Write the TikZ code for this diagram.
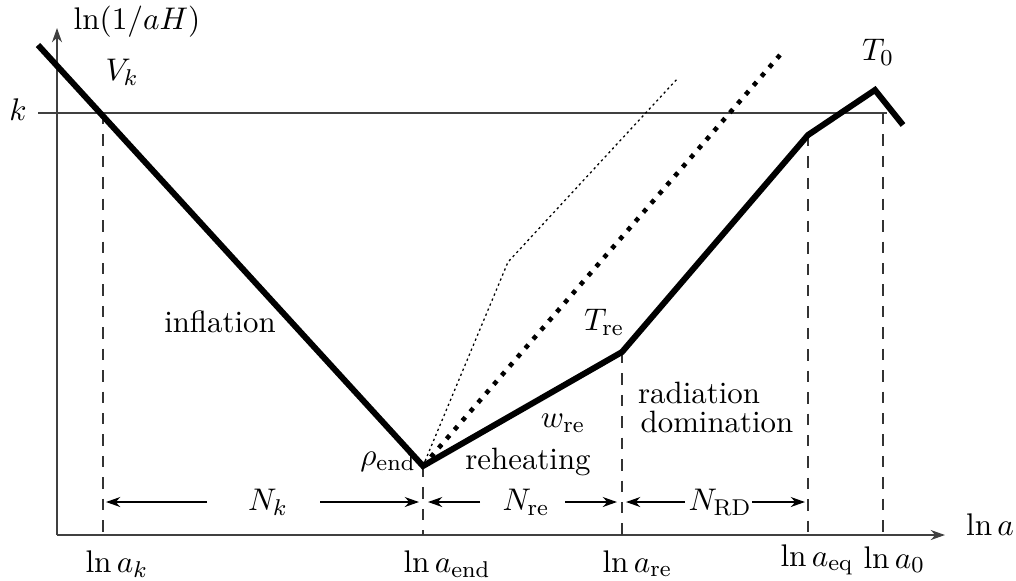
\documentclass[tikz,border=0pt]{standalone}
\usetikzlibrary{arrows.meta}
\begin{document}
\begin{tikzpicture}[x=0.35pt,y=-0.35pt,
  every node/.style={font=\fontsize{10.8}{13}\selectfont},
  axis/.style={line width=0.7pt, draw=black!75, -{Stealth[length=5pt,width=3.5pt]}},
  kline/.style={line width=0.7pt, draw=black!75},
  curve/.style={line width=2.1pt, line join=miter},
  thindot/.style={line width=0.45pt, dash pattern=on 0.8pt off 1.1pt},
  thickdot/.style={line width=1.6pt, dash pattern=on 1.6pt off 2.6pt},
  guide/.style={line width=0.6pt, draw=black!80, dash pattern=on 4pt off 3.5pt},
  meas/.style={line width=0.6pt, -{Stealth[length=5pt,width=3.5pt]}},
  lbl/.style={inner sep=0pt},
  tick/.style={inner sep=0pt, anchor=base west},
]
\useasboundingbox (0,0) rectangle (1016,580);
% axes
\coordinate (O) at (57,535);
\coordinate (Ytop) at (57,28);
\coordinate (Xend) at (945,535);
\draw[axis] (O) -- (Ytop);
\draw[axis] (O) -- (Xend);
% k line
\coordinate (K0) at (38,113);
\coordinate (K1) at (887,113);
\draw[kline] (K0) -- (K1);
% main curve points
\coordinate (P0) at (38,45);
\coordinate (Pend) at (423,466);
\coordinate (Pre) at (622,352);
\coordinate (Peq) at (808,135);
\coordinate (Ppk) at (875,90);
\coordinate (Pfin) at (903,125);
% verticals
\coordinate (Vk) at (103,113);   \coordinate (Bk) at (103,535);
\coordinate (Bend) at (423,535);
\coordinate (Bre) at (622,535);
\coordinate (Beq) at (808,535);
\coordinate (V0) at (883,113);   \coordinate (B0) at (883,535);
\draw[guide] (Vk) -- (Bk);
\draw[guide] (Pend) -- (Bend);
\draw[guide] (Pre) -- (Bre);
\draw[guide] (Peq) -- (Beq);
\draw[guide] (V0) -- (B0);
% other reheating curves
\coordinate (D1) at (508,262);
\coordinate (D2) at (678,78);
\coordinate (D3) at (780,55);
\draw[thindot] (Pend) -- (D1) -- (D2);
\draw[thickdot] (Pend) -- (D3);
% main curve
\draw[curve] (P0) -- (Pend) -- (Pre) -- (Peq) -- (Ppk) -- (Pfin);
% labels
\node[lbl] (ylab) at (137,22) {$\ln(1/aH)$};
\node[lbl] (Vklab) at (122,72) {$V_k$};
\node[lbl] (klab) at (18,110) {$k$};
\node[lbl] (T0lab) at (878,52) {$T_0$};
\node[lbl] (infl) at (220,322) {inflation};
\node[lbl] (Trelab) at (604,322) {$T_{\mathrm{re}}$};
\node[lbl] (wre) at (563,423) {$w_{\mathrm{re}}$};
\node[lbl] (reh) at (528,462) {reheating};
\node[lbl] (rho) at (388,462) {$\rho_{\mathrm{end}}$};
\node[lbl] (rad) at (699,393) {radiation};
\node[lbl] (dom) at (717,422) {domination};
\node[lbl] (xlab) at (990,525) {$\ln a$};
% tick labels
\node[tick] (tk) at (85,572) {$\ln a_k$};
\node[tick] (tend) at (403,572) {$\ln a_{\mathrm{end}}$};
\node[tick] (tre) at (602,572) {$\ln a_{\mathrm{re}}$};
\node[tick] (teq) at (780,566) {$\ln a_{\mathrm{eq}}$};
\node[tick] (t0) at (863,568) {$\ln a_0$};
% durations
\node[lbl] (Nk) at (268,502) {$N_k$};
\coordinate (a1) at (207,502); \coordinate (a1t) at (106,502);
\coordinate (a2) at (320,502); \coordinate (a2t) at (419,502);
\draw[meas] (a1) -- (a1t);
\draw[meas] (a2) -- (a2t);
\node[lbl] (Nre) at (526,502) {$N_{\mathrm{re}}$};
\coordinate (b1) at (480,502); \coordinate (b1t) at (428,502);
\coordinate (b2) at (565,502); \coordinate (b2t) at (617,502);
\draw[meas] (b1) -- (b1t);
\draw[meas] (b2) -- (b2t);
\node[lbl] (NRD) at (720,502) {$N_{\mathrm{RD}}$};
\coordinate (c1) at (685,502); \coordinate (c1t) at (626,502);
\coordinate (c2) at (752,502); \coordinate (c2t) at (805,502);
\draw[meas] (c1) -- (c1t);
\draw[meas] (c2) -- (c2t);
\end{tikzpicture}
\end{document}
